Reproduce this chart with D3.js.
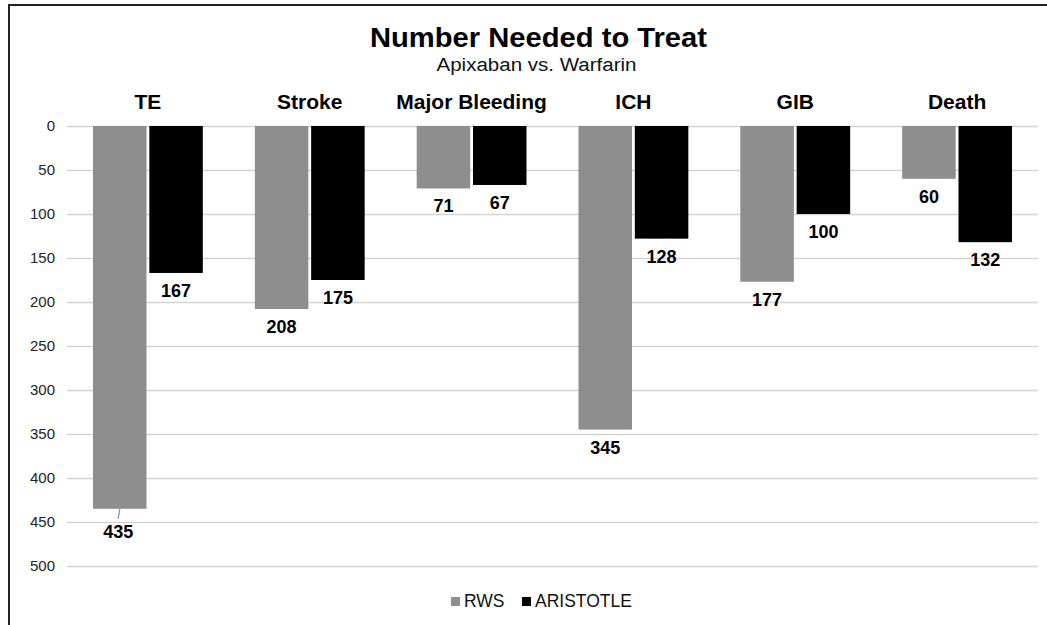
<!DOCTYPE html>
<html>
<head>
<meta charset="utf-8">
<script src="https://cdn.jsdelivr.net/npm/d3@7"></script>
<style>
  html, body { margin: 0; padding: 0; background: #fff; }
  svg { display: block; }
</style>
</head>
<body>
<svg id="chart" width="1047" height="625"></svg>
<script>
// Number needed to treat, apixaban vs. warfarin
const categories = ["TE", "Stroke", "Major Bleeding", "ICH", "GIB", "Death"];
const seriesNames = ["RWS", "ARISTOTLE"];
const rwsValues = [435, 208, 71, 345, 177, 60];
const aristotleValues = [167, 175, 67, 128, 100, 132];
const yTicks = [0, 50, 100, 150, 200, 250, 300, 350, 400, 450, 500];

const colors = { RWS: "#8e8e8e", ARISTOTLE: "#000000" };
const svg = d3.select("#chart");
const W = 1047, H = 625;

const margin = { left: 67, right: 1038, top: 126, bottom: 566 };
const sans = "'Liberation Sans', Arial, Helvetica, sans-serif";

// frame
svg.append("line").attr("x1", 9).attr("x2", 9).attr("y1", 5).attr("y2", H)
  .attr("stroke", "#222").attr("stroke-width", 2);
svg.append("line").attr("x1", 8).attr("x2", W).attr("y1", 5).attr("y2", 5)
  .attr("stroke", "#222").attr("stroke-width", 2);

const x0 = d3.scaleBand().domain(categories).range([margin.left, margin.right]).paddingInner(0).paddingOuter(0);
const x1 = d3.scaleBand().domain(seriesNames).range([26, x0.bandwidth() - 26]).paddingInner(0.05);
const y = d3.scaleLinear().domain([0, 500]).range([margin.top, margin.bottom]);

// gridlines and tick labels
const yAxis = d3.axisLeft(y).tickValues(yTicks).tickSize(-(margin.right - margin.left)).tickPadding(12);
const gAxis = svg.append("g").attr("transform", `translate(${margin.left},0)`).call(yAxis);
gAxis.select(".domain").remove();
gAxis.selectAll(".tick line").attr("stroke", "#d4d4d4").attr("stroke-width", 1.6);
gAxis.selectAll(".tick text").attr("fill", "#222").attr("font-family", sans).attr("font-size", 15);

// title
svg.append("text").attr("x", 538.5).attr("y", 47).attr("text-anchor", "middle")
  .attr("font-family", sans).attr("font-weight", "bold").attr("font-size", 28).attr("fill", "#000")
  .attr("textLength", 337).attr("lengthAdjust", "spacingAndGlyphs")
  .text("Number Needed to Treat");
svg.append("text").attr("x", 536.5).attr("y", 71).attr("text-anchor", "middle")
  .attr("font-family", sans).attr("font-size", 18).attr("fill", "#111")
  .attr("textLength", 200).attr("lengthAdjust", "spacingAndGlyphs")
  .text("Apixaban vs. Warfarin");

// category headers
svg.append("g").selectAll("text").data(categories).join("text")
  .attr("x", d => x0(d) + x0.bandwidth() / 2)
  .attr("y", 109).attr("text-anchor", "middle")
  .attr("font-family", sans).attr("font-weight", "bold").attr("font-size", 21).attr("fill", "#000")
  .text(d => d);

// bars
const rows = [];
categories.forEach((c, i) => {
  rows.push({ cat: c, series: "RWS", value: rwsValues[i] });
  rows.push({ cat: c, series: "ARISTOTLE", value: aristotleValues[i] });
});

svg.append("g").selectAll("rect").data(rows).join("rect")
  .attr("x", d => x0(d.cat) + x1(d.series))
  .attr("y", y(0))
  .attr("width", x1.bandwidth())
  .attr("height", d => y(d.value) - y(0))
  .attr("fill", d => colors[d.series]);

// value labels; a label pushed below a gridline gets a short leader line
const leader = d => d.cat === "TE" && d.series === "RWS";
const lab = svg.append("g");
rows.forEach(d => {
  const cx = x0(d.cat) + x1(d.series) + x1.bandwidth() / 2;
  const yEnd = y(d.value);
  const off = leader(d) ? 29 : 24;
  if (leader(d)) {
    lab.append("line").attr("x1", cx).attr("y1", yEnd).attr("x2", cx - 1.5).attr("y2", yEnd + 10)
      .attr("stroke", "#8e8e8e").attr("stroke-width", 1.2);
  }
  lab.append("text").attr("x", leader(d) ? cx - 1.5 : cx).attr("y", yEnd + off)
    .attr("text-anchor", "middle").attr("font-family", sans).attr("font-weight", "bold")
    .attr("font-size", 18).attr("fill", "#000").text(d.value);
});

// legend
const legend = svg.append("g");
const legendItems = [{ name: "RWS", x: 451 }, { name: "ARISTOTLE", x: 522 }];
legendItems.forEach(it => {
  legend.append("rect").attr("x", it.x).attr("y", 597).attr("width", 9).attr("height", 9).attr("fill", colors[it.name]);
  legend.append("text").attr("x", it.x + 13).attr("y", 607).attr("font-family", sans).attr("font-size", 17.5)
    .attr("fill", "#111").text(it.name);
});
</script>
</body>
</html>
